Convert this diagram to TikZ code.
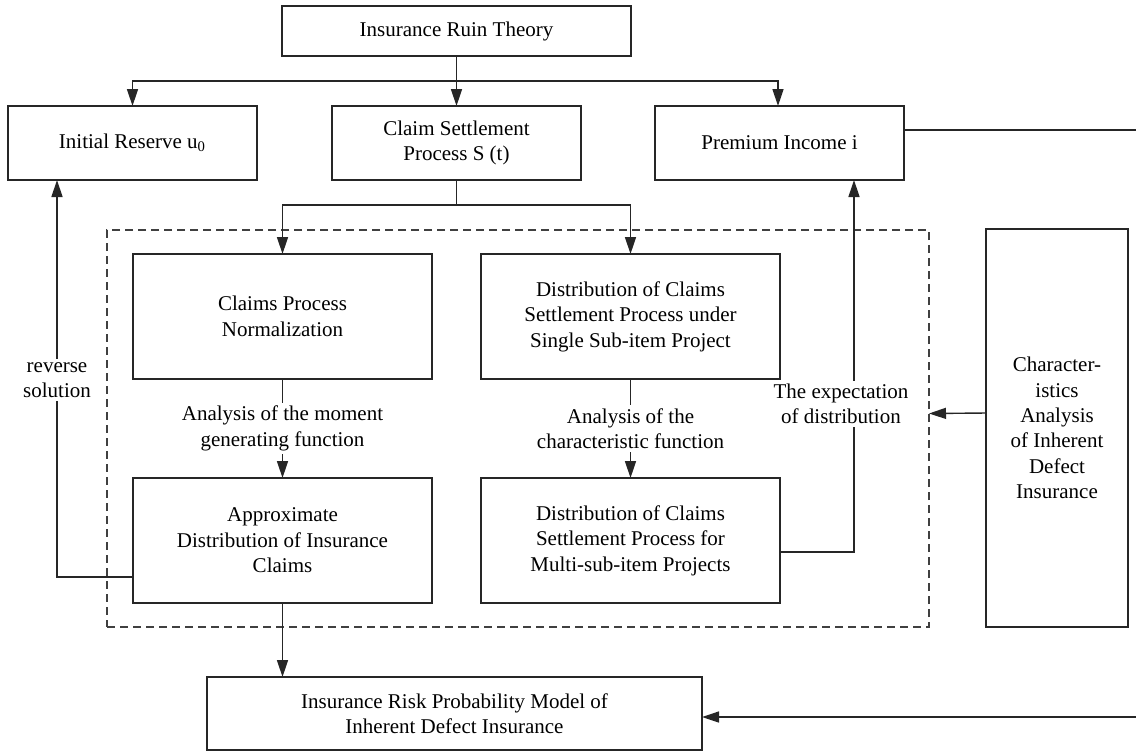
\documentclass[tikz,border=0pt]{standalone}
\usepackage{fontspec}
\setmainfont{Liberation Serif}
\usetikzlibrary{arrows.meta,calc}

\begin{document}
\begin{tikzpicture}[x=0.5pt,y=-0.5pt,
    box/.style={draw=black!85, line width=0.7pt, align=center, inner sep=2pt, outer sep=0pt,
      font=\fontsize{10.5pt}{12.7pt}\selectfont},
    lbl/.style={fill=white, align=center, inner sep=1.5pt,
      font=\fontsize{10.5pt}{12.7pt}\selectfont},
    link/.style={draw=black!85, line width=0.7pt},
    arr/.style={link, -{Triangle[length=8.5pt,width=5.5pt]}}]
  \useasboundingbox (0,0) rectangle (1136,752);

  \node[box, minimum width=174.5pt, minimum height=25pt] (ruin) at (456.5,31) {Insurance Ruin Theory};
  \node[box, minimum width=124.5pt, minimum height=37pt] (reserve) at (132.5,143) {Initial Reserve u\textsubscript{0}};
  \node[box, minimum width=124.5pt, minimum height=37pt] (claim) at (456.5,143) {Claim Settlement\\Process S (t)};
  \node[box, minimum width=124.5pt, minimum height=37pt] (premium) at (779.5,143) {Premium Income i};

  \node[box, draw=black!75, dash pattern=on 4pt off 2.5pt, minimum width=411pt, minimum height=198.5pt] (group) at (518,428.5) {};
  \node[box, minimum width=149.5pt, minimum height=62.5pt] (norm) at (282.5,316.5) {Claims Process\\Normalization};
  \node[box, minimum width=149.5pt, minimum height=62.5pt] (single) at (630.5,316.5) {Distribution of Claims\\Settlement Process under\\Single Sub-item Project};
  \node[box, minimum width=149.5pt, minimum height=62.5pt] (approx) at (282.5,540.5) {Approximate\\Distribution of Insurance\\Claims};
  \node[box, minimum width=149.5pt, minimum height=62.5pt] (multi) at (630.5,540.5) {Distribution of Claims\\Settlement Process for\\Multi-sub-item Projects};

  \node[box, minimum width=71pt, minimum height=199pt] (feature) at (1057,428) {Character-\\istics\\Analysis\\of Inherent\\Defect\\Insurance};
  \node[box, minimum width=247.5pt, minimum height=36.5pt] (model) at (454.5,713.5) {Insurance Risk Probability Model of\\Inherent Defect Insurance};

  \coordinate (fork1) at (456.5,81);
  \coordinate (fork2) at (456.5,205);
  \coordinate (edgeT) at (1136,130);
  \coordinate (edgeB) at (1136,717);

  \draw[arr] (ruin) -- (claim);
  \draw[arr] (fork1) -| (reserve.north);
  \draw[arr] (fork1) -| ($(premium.north)+(-1.5,0)$);
  \draw[link] (claim) -- (fork2);
  \draw[arr] (fork2) -| (norm.north);
  \draw[arr] (fork2) -| (single.north);

  \draw[arr] (norm) -- node[lbl] {Analysis of the moment\\generating function} (approx);
  \draw[arr] (single) -- node[lbl] {Analysis of the\\characteristic function} (multi);

  \draw[arr] ($(approx.west)+(0,36.5)$) -| ($(reserve.south)+(-75.5,0)$);
  \node[lbl] (reverse) at (57,380) {reverse\\solution};
  \draw[arr] ($(multi.east)+(0,11.5)$) -| ($(premium.south)+(74.5,0)$);
  \node[lbl] (expect) at (841,404) {The expectation\\of distribution};

  \draw[arr] ($(feature.west)+(0,-15)$) -- ($(group.east)+(0,-15)$);
  \draw[link] ($(premium.east)+(0,-13)$) -- (edgeT);
  \draw[arr] (edgeB) -- (model.east |- edgeB);
  \draw[arr] (approx.south) -- (approx.south |- model.north);
\end{tikzpicture}
\end{document}
